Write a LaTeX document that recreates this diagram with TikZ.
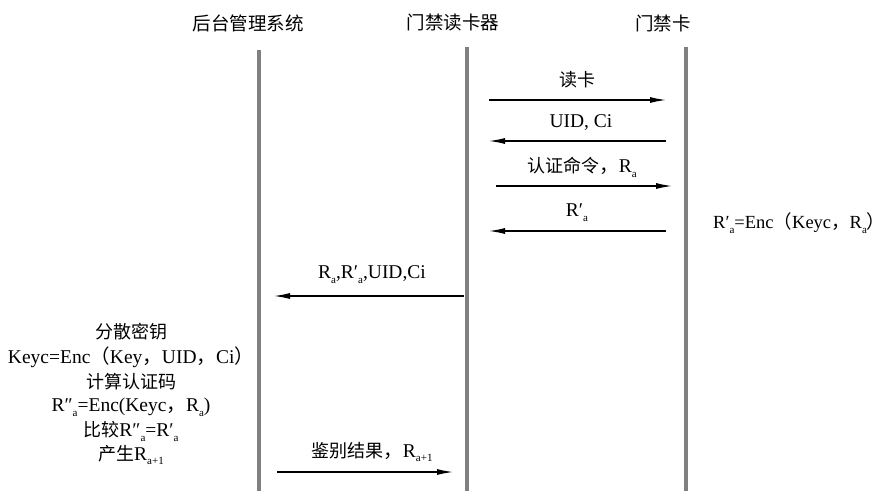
\documentclass[tikz,border=0pt]{standalone}
\usepackage{fontspec}
\setmainfont{Liberation Serif}
\newfontfamily\cjk{Noto Sans CJK SC}
\usetikzlibrary{arrows.meta}
\newcommand{\lsub}[1]{\raisebox{-0.55ex}{\fontsize{11}{11}\selectfont #1}}
\newcommand{\zh}[1]{{\cjk\fontsize{18}{18}\selectfont #1}}
\newcommand{\zp}[1]{{\cjk #1}}
\tikzset{
  lifeline/.style={line width=4pt, draw={rgb,255:red,128;green,128;blue,128}},
  msg/.style={line width=1.2pt, -{Latex[length=16pt,width=6pt]}},
  lbl/.style={inner sep=0pt, font=\fontsize{19.5}{19.5}\selectfont},
  ttl/.style={inner sep=0pt, font=\fontsize{18.5}{18.5}\selectfont\cjk},
}
\begin{document}
\begin{tikzpicture}[x=1pt,y=-1pt]
\useasboundingbox (0,0) rectangle (886,491);
% titles
\node[ttl] (t1) at (248,23) {后台管理系统};
\node[ttl] (t2) at (453,23) {门禁读卡器};
\node[ttl] (t3) at (663,23) {门禁卡};
% lifelines
\coordinate (a0) at (259,50); \coordinate (a1) at (259,491);
\coordinate (b0) at (467,47); \coordinate (b1) at (467,491);
\coordinate (c0) at (686,47); \coordinate (c1) at (686,491);
\draw[lifeline] (a0) -- (a1);
\draw[lifeline] (b0) -- (b1);
\draw[lifeline] (c0) -- (c1);
% message end points
\coordinate (m1s) at (489,100); \coordinate (m1e) at (666,100);
\coordinate (m2s) at (666,141); \coordinate (m2e) at (489,141);
\coordinate (m3s) at (496,186); \coordinate (m3e) at (672,186);
\coordinate (m4s) at (666,231); \coordinate (m4e) at (489,231);
\coordinate (m5s) at (464,296); \coordinate (m5e) at (274,296);
\coordinate (m6s) at (277,472); \coordinate (m6e) at (453,472);
\draw[msg] (m1s) -- (m1e);
\draw[msg] (m2s) -- (m2e);
\draw[msg] (m3s) -- (m3e);
\draw[msg] (m4s) -- (m4e);
\draw[msg] (m5s) -- (m5e);
\draw[msg] (m6s) -- (m6e);
% labels
\node[lbl] (l1) at (577,80) {\zh{读卡}};
\node[lbl] (l2) at (581,123) {UID, Ci};
\node[lbl] (l3) at (582,167) {\zh{认证命令}\zp{，}R\lsub{a}};
\node[lbl] (l4) at (577,213) {R′\lsub{a}};
\node[lbl] (l5) at (372,275) {R\lsub{a},R′\lsub{a},UID,Ci};
\node[lbl] (l6) at (372,452) {\zh{鉴别结果}\zp{，}R\lsub{a+1}};
\node[lbl, anchor=west, font=\fontsize{18.5}{18.5}\selectfont] (r1) at (713,223) {R′\lsub{a}=Enc\zp{（}Keyc\zp{，}R\lsub{a}\zp{）}};
% left computation block
\node[lbl] (k1) at (131,332) {\zh{分散密钥}};
\node[lbl] (k2) at (131,357) {Keyc=Enc\zp{（}Key\zp{，}UID\zp{，}Ci\zp{）}};
\node[lbl] (k3) at (131,382) {\zh{计算认证码}};
\node[lbl] (k4) at (131,407) {R″\lsub{a}=Enc(Keyc\zp{，}R\lsub{a})};
\node[lbl] (k5) at (131,431) {\zh{比较}R″\lsub{a}=R′\lsub{a}};
\node[lbl] (k6) at (131,455) {\zh{产生}R\lsub{a+1}};
\end{tikzpicture}
\end{document}
